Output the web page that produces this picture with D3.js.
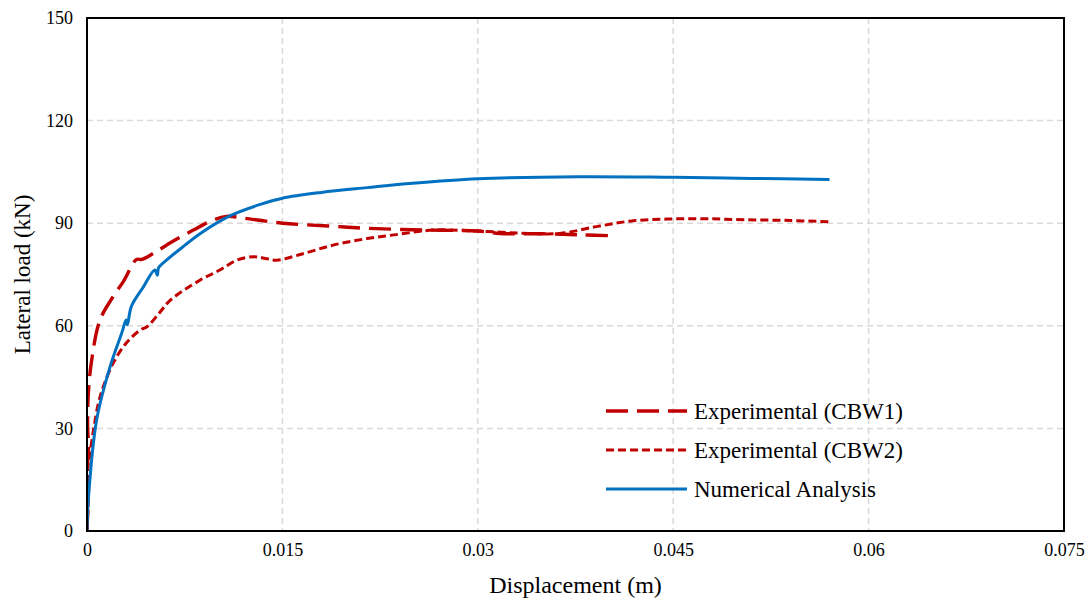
<!DOCTYPE html>
<html><head><meta charset="utf-8">
<script src="https://cdn.jsdelivr.net/npm/d3@7"></script>
<style>body{margin:0;background:#fff;} svg{display:block;}</style>
</head><body>
<script>
// Data
const xTicks = [0, 0.015, 0.03, 0.045, 0.06, 0.075];
const xTickLabels = ["0", "0.015", "0.03", "0.045", "0.06", "0.075"];
const yTicks = [0, 30, 60, 90, 120, 150];
const seriesNames = ["Experimental (CBW1)", "Experimental (CBW2)", "Numerical Analysis"];

const cbw1Disp = [0, 0.00008, 0.00003, 0.00012, 0.00005, 0.0001, 0.00036, 0.001, 0.002, 0.0028, 0.0038, 0.0042, 0.0051, 0.0065, 0.00816, 0.0095, 0.0107, 0.012, 0.015, 0.0185, 0.0215, 0.026, 0.03, 0.0317, 0.035, 0.038, 0.0405];
const cbw1Load = [0, 12, 18, 25, 30, 40, 50, 61.7, 68.5, 73, 79.4, 79.4, 81.2, 84.5, 88, 90.6, 92.0, 91.5, 90.0, 89.2, 88.5, 88.0, 87.7, 87.0, 86.9, 86.6, 86.3];

const cbw2Disp = [0, 0.0001, 0.00005, 0.0002, 0.0005, 0.00087, 0.00125, 0.002, 0.003, 0.0041, 0.0046, 0.0055, 0.0064, 0.0087, 0.0102, 0.0115, 0.0128, 0.0137, 0.01456, 0.0165, 0.0189, 0.0215, 0.024, 0.0266, 0.03, 0.0333, 0.0363, 0.0391, 0.0417, 0.0445, 0.0475, 0.0506, 0.054, 0.057];
const cbw2Load = [0, 10, 18, 22, 29.5, 37.3, 42.2, 49, 54.9, 58.8, 59.7, 63.5, 67.5, 73.4, 76.3, 79.2, 80.2, 79.7, 79.2, 81.0, 83.6, 85.5, 86.8, 88.0, 87.7, 87.1, 87.0, 89.0, 90.6, 91.2, 91.3, 91.0, 90.8, 90.4];

const numDisp = [0, 0.0001, 0.00074, 0.00177, 0.00266, 0.0030, 0.0031, 0.0034, 0.0043, 0.0052, 0.0054, 0.0055, 0.0061, 0.0075, 0.0087, 0.011, 0.0133, 0.015, 0.018, 0.0215, 0.025, 0.03, 0.0378, 0.045, 0.051, 0.057];
const numLoad = [0, 9, 32.5, 48, 57.8, 61.7, 60.3, 65.6, 71.2, 76.3, 74.8, 77.0, 79.2, 83.5, 87.0, 92.2, 95.5, 97.3, 99.0, 100.4, 101.7, 103.0, 103.6, 103.4, 103.1, 102.8];

const W = 1091, H = 603;
const m = {left: 87, right: 1064, top: 18, bottom: 531};
const FONT = '"Liberation Serif"';
const svg = d3.select("body").append("svg").attr("width", W).attr("height", H);

const x = d3.scaleLinear().domain([0, 0.075]).range([m.left, m.right]);
const y = d3.scaleLinear().domain([0, 150]).range([m.bottom, m.top]);

// grid
const g = svg.append("g");
g.selectAll(".vg").data(xTicks.slice(1, -1)).enter().append("line")
  .attr("x1", d => x(d)).attr("x2", d => x(d)).attr("y1", m.top).attr("y2", m.bottom)
  .attr("stroke", "#d9d9d9").attr("stroke-width", 1.5).attr("stroke-dasharray", "6,4");
g.selectAll(".hg").data(yTicks.slice(1, -1)).enter().append("line")
  .attr("y1", d => y(d)).attr("y2", d => y(d)).attr("x1", m.left).attr("x2", m.right)
  .attr("stroke", "#d9d9d9").attr("stroke-width", 1.5).attr("stroke-dasharray", "6,4");

// axes labels
const xAxis = d3.axisBottom(x).tickValues(xTicks).tickSize(0).tickPadding(12)
  .tickFormat((d, i) => xTickLabels[i]);
const yAxis = d3.axisLeft(y).tickValues(yTicks).tickSize(0).tickPadding(14);
const gx = svg.append("g").attr("transform", `translate(0,${m.bottom})`).call(xAxis);
const gy = svg.append("g").attr("transform", `translate(${m.left},0)`).call(yAxis);
[gx, gy].forEach(a => {
  a.select(".domain").remove();
  a.selectAll("text").style("font-family", FONT).style("font-size", "18px").attr("fill", "#000");
});

const line = d3.line().x(d => x(d[0])).y(d => y(d[1])).curve(d3.curveCatmullRom.alpha(0.5));

svg.append("clipPath").attr("id", "c").append("rect")
  .attr("x", m.left).attr("y", m.top).attr("width", m.right - m.left).attr("height", m.bottom - m.top);

const styles = [
  {color: "#C00000", dash: "22,9", w: 3.4},
  {color: "#C00000", dash: "8,4", w: 3},
  {color: "#0070C0", dash: null, w: 3}
];
const data = [
  d3.zip(cbw1Disp, cbw1Load),
  d3.zip(cbw2Disp, cbw2Load),
  d3.zip(numDisp, numLoad)
];
const pl = svg.append("g").attr("clip-path", "url(#c)");
data.forEach((d, i) => {
  pl.append("path").attr("d", line(d))
    .attr("fill", "none").attr("stroke", styles[i].color).attr("stroke-width", styles[i].w)
    .attr("stroke-dasharray", styles[i].dash).attr("stroke-linejoin", "round");
});

// frame
svg.append("rect").attr("x", m.left).attr("y", m.top).attr("width", m.right - m.left).attr("height", m.bottom - m.top)
  .attr("fill", "none").attr("stroke", "#000").attr("stroke-width", 2);

// legend
const lg = svg.append("g");
const ly = [411, 450, 489];
seriesNames.forEach((n, i) => {
  lg.append("line").attr("x1", 606).attr("x2", 687).attr("y1", ly[i]).attr("y2", ly[i])
    .attr("stroke", styles[i].color).attr("stroke-width", styles[i].w).attr("stroke-dasharray", styles[i].dash);
  lg.append("text").attr("x", 694).attr("y", ly[i]).attr("dy", "0.35em")
    .style("font-family", FONT).style("font-size", "23px").attr("fill", "#000").text(n);
});

// titles
svg.append("text").attr("x", (m.left + m.right) / 2).attr("y", 593).attr("text-anchor", "middle")
  .style("font-family", FONT).style("font-size", "24px").text("Displacement (m)");
svg.append("text").attr("transform", `translate(30,${(m.top + m.bottom) / 2}) rotate(-90)`)
  .attr("text-anchor", "middle").style("font-family", FONT).style("font-size", "23px").text("Lateral load (kN)");
</script>
</body></html>
